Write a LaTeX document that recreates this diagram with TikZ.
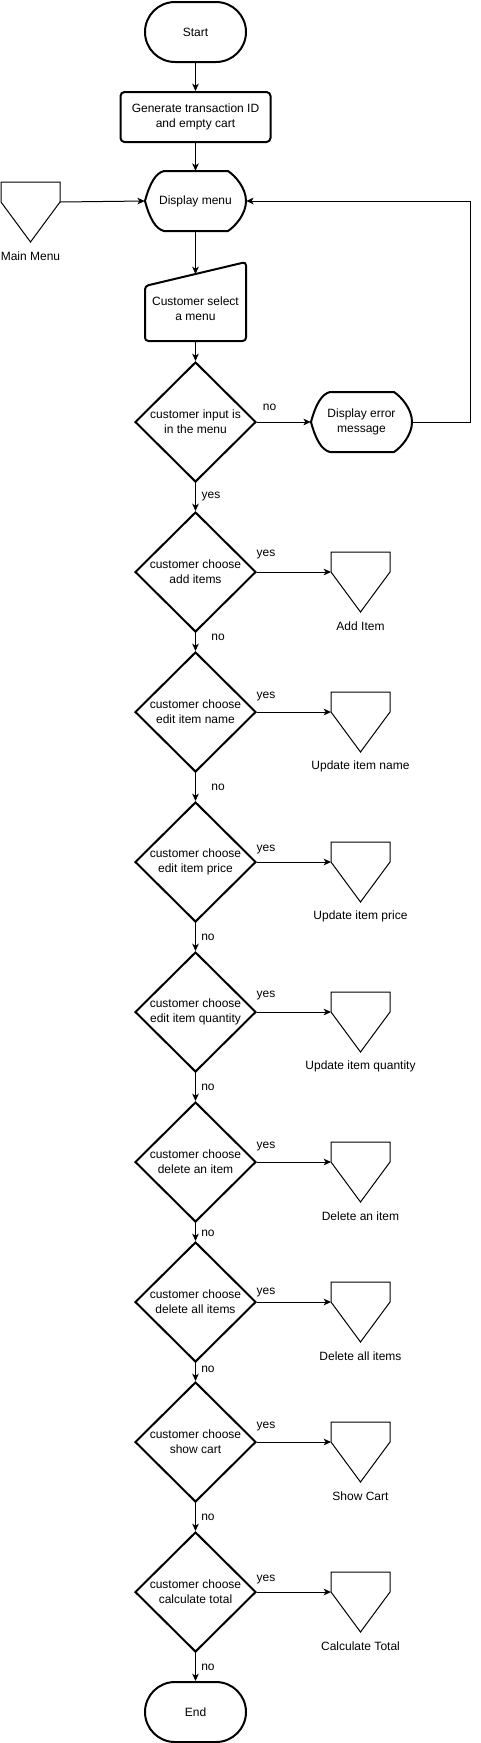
\documentclass[tikz,border=0pt]{standalone}
\usepackage{fontspec}
\setmainfont{Liberation Sans}
\usetikzlibrary{shapes.geometric,arrows.meta,calc}
\tikzset{
  every node/.style={font=\fontsize{9}{11}\selectfont, align=center},
  term/.style={draw, line width=1.5pt, rectangle, rounded corners=22.5pt, minimum width=75.75pt, minimum height=45pt, inner sep=0pt},
  procbox/.style={draw, line width=1.5pt, rectangle, rounded corners=3pt, minimum width=112.5pt, minimum height=37.5pt, inner sep=0pt},
  decbox/.style={draw, line width=1.5pt, diamond, minimum width=90.75pt, minimum height=90pt, inner sep=0pt},
  dispbox/.style={rectangle, inner sep=0pt, minimum width=75.75pt, minimum height=45pt},
  pagebox/.style={rectangle, inner sep=0pt, minimum width=44.25pt, minimum height=45pt},
  hidbox/.style={rectangle, inner sep=0pt, minimum width=75.75pt},
  shp/.style={line width=1.5pt, line join=round},
  thinshp/.style={line width=0.75pt, line join=miter},
  arr/.style={line width=0.75pt, -{Stealth[length=5.5pt,width=5pt,inset=1.5pt]}},
  lbl/.style={inner sep=0pt},
}
\newcommand\dispoutline[1]{%
  \draw[shp] ([shift={(-50.5,0)}]#1.center)
    .. controls ([shift={(-46,-17)}]#1.center) and ([shift={(-40,-28)}]#1.center) .. ([shift={(-31.5,-30)}]#1.center)
    -- ([shift={(32.5,-30)}]#1.center)
    .. controls ([shift={(40,-25)}]#1.center) and ([shift={(50.5,-13)}]#1.center) .. ([shift={(50.5,0)}]#1.center)
    .. controls ([shift={(50.5,13)}]#1.center) and ([shift={(40,25)}]#1.center) .. ([shift={(32.5,30)}]#1.center)
    -- ([shift={(-31.5,30)}]#1.center)
    .. controls ([shift={(-40,28)}]#1.center) and ([shift={(-46,17)}]#1.center) .. ([shift={(-50.5,0)}]#1.center)
    -- cycle;}
\newcommand\offpage[1]{%
  \draw[thinshp] ([shift={(-29.5,-30)}]#1.center) -- ([shift={(29.5,-30)}]#1.center)
    -- ([shift={(29.5,-10)}]#1.center) -- ([shift={(0,30)}]#1.center)
    -- ([shift={(-29.5,-10)}]#1.center) -- cycle;}
\begin{document}
\begin{tikzpicture}[x=0.75pt,y=-0.75pt]
\useasboundingbox (0,0) rectangle (481,1743);

% main column
\node[term] (start) at (195.5,32) {Start};
\node[procbox] (gen) at (195.5,117) {Generate transaction ID\\and empty cart};
\node[dispbox] (disp) at (195.5,201) {Display menu};
\dispoutline{disp}
\node[hidbox] (man) at (195.5,309) {Customer select\\a menu};
\draw[shp, rounded corners=2.5pt] ([shift={(-50.5,-23)}]man.center) -- ([shift={(50.5,-47)}]man.center)
  -- ([shift={(50.5,32)}]man.center) -- ([shift={(-50.5,32)}]man.center) -- cycle;
\coordinate (manin) at ([shift={(0,-35)}]man.center);
\coordinate (manout) at ([shift={(0,32)}]man.center);

% main menu connector
\node[pagebox] (mm) at (30.5,212) {};
\offpage{mm}
\node[lbl] (mml) at (30.5,256) {Main Menu};
\coordinate (mmout) at ([shift={(29.5,-10)}]mm.center);

% first decision and error
\node[decbox] (d1) at (195.5,422) {customer input is\\in the menu};
\node[dispbox] (err) at (361.5,422) {Display error\\message};
\dispoutline{err}
\coordinate (fb) at (470,422);

% choice decisions
\foreach \i/\cy/\txt/\lab/\yy in {
  2/572/add items/Add Item/555,
  3/712/edit item name/Update item name/697,
  4/862/edit item price/Update item price/850,
  5/1012/edit item quantity/Update item quantity/996,
  6/1162/delete an item/Delete an item/1146,
  7/1302/delete all items/Delete all items/1292,
  8/1442/show cart/Show Cart/1426,
  9/1592/calculate total/Calculate Total/1579}
{
  \node[decbox] (d\i) at (195.5,\cy) {customer choose\\\txt};
  \node[pagebox] (oc\i) at (360.5,\cy+10) {};
  \offpage{oc\i}
  \node[lbl] (ocl\i) at (360.5,\cy+54) {\lab};
  \coordinate (oci\i) at ([shift={(-29.5,-10)}]oc\i.center);
  \draw[arr] (d\i.east) -- (oci\i);
  \node[lbl] (yes\i) at (266,\yy) {yes};
}

\node[term] (end) at (195.5,1712) {End};

% connectors
\draw[arr] (start) -- (gen);
\draw[arr] (gen) -- (disp.north);
\draw[arr] (disp.south) -- (manin);
\draw[arr] (manout) -- (d1.north);
\draw[arr] (mmout) -- (disp.west);
\draw[arr] (d1.east) -- (err.west);
\draw[arr] (err.east) -- (fb) |- (disp.east);
\draw[arr] (d1.south) -- (d2.north);
\draw[arr] (d2.south) -- (d3.north);
\draw[arr] (d3.south) -- (d4.north);
\draw[arr] (d4.south) -- (d5.north);
\draw[arr] (d5.south) -- (d6.north);
\draw[arr] (d6.south) -- (d7.north);
\draw[arr] (d7.south) -- (d8.north);
\draw[arr] (d8.south) -- (d9.north);
\draw[arr] (d9.south) -- (end.north);

% labels
\node[lbl] (no1) at (269.5,407) {no};
\node[lbl] (yes1) at (211,497) {yes};
\node[lbl] (no2) at (218,637) {no};
\node[lbl] (no3) at (218,787) {no};
\node[lbl] (no4) at (208,937) {no};
\node[lbl] (no5) at (208,1087) {no};
\node[lbl] (no6) at (208,1233) {no};
\node[lbl] (no7) at (208,1369) {no};
\node[lbl] (no8) at (208,1517) {no};
\node[lbl] (no9) at (208,1667) {no};
\end{tikzpicture}
\end{document}
